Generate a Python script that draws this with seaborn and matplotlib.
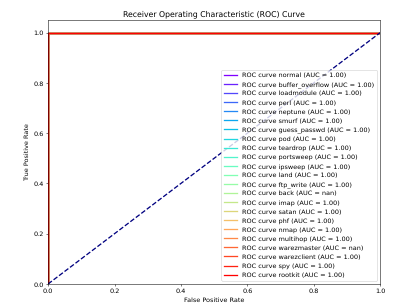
import numpy as np
import matplotlib
matplotlib.use('Agg')
import matplotlib.pyplot as plt
import seaborn as sns

# Class names and their AUC values (nan where no positive samples)
classes = ['normal', 'buffer_overflow', 'loadmodule', 'perl', 'neptune', 'smurf',
           'guess_passwd', 'pod', 'teardrop', 'portsweep', 'ipsweep', 'land',
           'ftp_write', 'back', 'imap', 'satan', 'phf', 'nmap', 'multihop',
           'warezmaster', 'warezclient', 'spy', 'rootkit']
auc_values = [1.00, 1.00, 1.00, 1.00, 1.00, 1.00, 1.00, 1.00, 1.00, 1.00, 1.00, 1.00,
              1.00, np.nan, 1.00, 1.00, 1.00, 1.00, 1.00, np.nan, 1.00, 1.00, 1.00]

# ROC points for a perfect classifier
fpr_points = [0.0, 0.0, 1.0]
tpr_points = [0.0, 1.0, 1.0]
diag = [0.0, 1.0]

colors = plt.cm.rainbow(np.linspace(0, 1, len(classes)))

plt.rcParams['text.hinting'] = 'no_hinting'

fig, ax = plt.subplots(figsize=(8.8, 6.6), dpi=411 / 8.8)
fig.subplots_adjust(left=0.117, right=0.925, bottom=0.078, top=0.934)

for name, auc, color in zip(classes, auc_values, colors):
    if np.isnan(auc):
        tpr = [np.nan] * len(tpr_points)
    else:
        tpr = tpr_points
    ax.plot(fpr_points, tpr, color=color, lw=2,
            label=f'ROC curve {name} (AUC = {auc:0.2f})')

sns.lineplot(x=diag, y=diag, ax=ax, color='navy', lw=2, linestyle='--')

ax.set_xlim([0.0, 1.0])
ax.set_ylim([0.0, 1.05])
ax.set_xlabel('False Positive Rate')
ax.set_ylabel('True Positive Rate')
ax.set_title('Receiver Operating Characteristic (ROC) Curve')
ax.legend(loc='lower right')

plt.savefig('out.png')
